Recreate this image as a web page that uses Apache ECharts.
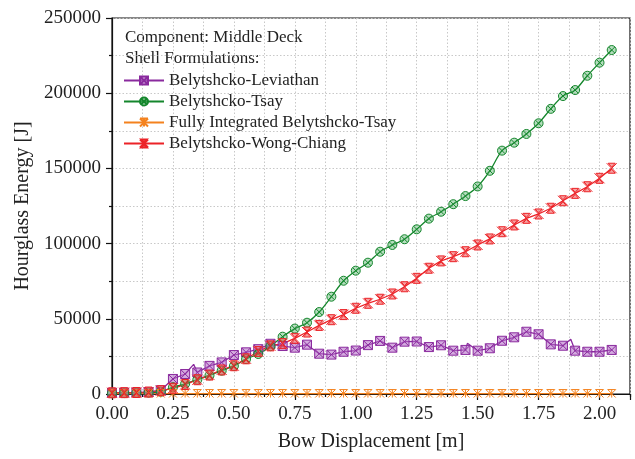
<!DOCTYPE html>
<html>
<head>
<meta charset="utf-8">
<script src="https://cdn.jsdelivr.net/npm/echarts@6/dist/echarts.min.js"></script>
<style>
  html, body { margin: 0; padding: 0; background: #fff; }
  #chart { width: 635px; height: 459px; }
</style>
</head>
<body>
<div id="chart"></div>
<script>
// Bow displacement [m] at which each sample is marked
const displacement = [
  0.00, 0.05, 0.10, 0.15, 0.20, 0.25, 0.30, 0.35, 0.40, 0.45,
  0.50, 0.55, 0.60, 0.65, 0.70, 0.75, 0.80, 0.85, 0.90, 0.95,
  1.00, 1.05, 1.10, 1.15, 1.20, 1.25, 1.30, 1.35, 1.40, 1.45,
  1.50, 1.55, 1.60, 1.65, 1.70, 1.75, 1.80, 1.85, 1.90, 1.95,
  2.00, 2.05
];

// Hourglass energy [J] per shell formulation
const leviathan = [
  800, 900, 1000, 1200, 2500, 10000, 13300, 14300, 18700, 21000,
  25900, 27700, 29800, 33400, 31900, 30800, 32800, 26800, 26200, 28100,
  28900, 32500, 35300, 30800, 34800, 34900, 31200, 32400, 28800, 29300,
  28800, 30400, 35400, 37700, 41400, 39700, 33000, 32100, 28800, 28100,
  28100, 29300
];
// short excursions of the Leviathan curve between marked samples
const leviathanPeakX = [0.335, 1.458, 1.508, 1.882];
const leviathanPeakY = [19700, 33700, 27500, 36400];

const tsay = [
  500, 600, 700, 900, 1500, 4500, 6800, 9500, 12400, 15500,
  18600, 23200, 26600, 31800, 38100, 43500, 47400, 54500, 64700, 75300,
  82000, 87300, 94600, 99100, 102900, 109500, 116600, 121200, 126200, 131600,
  138000, 148400, 161800, 167100, 172900, 180000, 189600, 198100, 202100, 211600,
  220300, 228700
];

const fullyIntegrated = [
  300, 300, 300, 300, 300, 300, 300, 300, 300, 300,
  300, 300, 300, 300, 300, 300, 300, 300, 300, 300,
  300, 300, 300, 300, 300, 300, 300, 300, 300, 300,
  300, 300, 300, 300, 300, 300, 300, 300, 300, 300,
  300, 300
];

const wongChiang = [
  800, 900, 1000, 1300, 2200, 3800, 6300, 9500, 12600, 16000,
  18800, 23400, 28300, 32000, 33500, 37000, 41200, 45600, 49400, 52800,
  57000, 60300, 63000, 66500, 71300, 76900, 83600, 88500, 91300, 94600,
  99100, 103100, 107900, 112400, 116800, 119700, 123500, 128500, 133400, 137800,
  143400, 150100
];

const xTickLabels = ['0.00', '0.25', '0.50', '0.75', '1.00', '1.25', '1.50', '1.75', '2.00'];
const yTickLabels = ['0', '50000', '100000', '150000', '200000', '250000'];

const seriesNames = [
  'Belytshcko-Leviathan',
  'Belytshcko-Tsay',
  'Fully Integrated Belytshcko-Tsay',
  'Belytshcko-Wong-Chiang'
];
const headerLines = ['Component: Middle Deck', 'Shell Formulations:'];

const SERIF = '"Liberation Serif", "Times New Roman", serif';

// marker glyphs
const boxCross = 'path://M0,0 H10 V10 H0 Z M0,0 L10,10 M10,0 L0,10';
const circleCross = 'path://M5,0 A5,5 0 1,1 5,10 A5,5 0 1,1 5,0 Z M1.6,1.6 L8.4,8.4 M8.4,1.6 L1.6,8.4';
const starCross = 'path://M0,0 L10,10 M10,0 L0,10 M5,0 V10 M0,0 H10';
const hourglassCross = 'path://M0,0 L10,10 M10,0 L0,10 M1.5,0 H8.5 L5,4 Z M1.5,10 H8.5 L5,6 Z';

function points(values) {
  return displacement.map((x, i) => [x, values[i]]);
}

function leviathanPoints() {
  const pts = points(leviathan).map(p => ({ value: p }));
  leviathanPeakX.forEach((x, i) => {
    pts.push({ value: [x, leviathanPeakY[i]], symbol: 'none' });
  });
  pts.sort((a, b) => a.value[0] - b.value[0]);
  return pts;
}

function makeSeries(name, data, color, fill, symbol, size, smooth) {
  return {
    name: name,
    type: 'line',
    data: data,
    smooth: smooth,
    symbol: symbol,
    symbolSize: size,
    showAllSymbol: true,
    lineStyle: { color: color, width: 1.3 },
    itemStyle: { color: fill, borderColor: color, borderWidth: 1 },
    emphasis: { disabled: true },
    animation: false
  };
}

const chart = echarts.init(document.getElementById('chart'), null, { renderer: 'canvas' });

const gridLine = { show: true, lineStyle: { color: '#c8c8c8', type: [1.5, 2], width: 1 } };

chart.setOption({
  backgroundColor: '#ffffff',
  animation: false,
  grid: {
    left: 112, right: 5, top: 18, bottom: 65,
    show: true, borderColor: '#111', borderWidth: 1.2, backgroundColor: 'transparent'
  },
  xAxis: [
    {
      type: 'value',
      min: 0, max: 2.125, interval: 0.25,
      axisLine: { show: true, lineStyle: { color: '#111', width: 1.2 } },
      axisTick: { show: true, length: 6, lineStyle: { color: '#111', width: 1.2 } },
      splitLine: { show: false },
      axisLabel: {
        color: '#222', fontFamily: SERIF, fontSize: 19, margin: 11,
        formatter: v => {
          const i = Math.round(v / 0.25);
          return Math.abs(v - i * 0.25) < 1e-6 && i < xTickLabels.length ? xTickLabels[i] : '';
        }
      },
      name: 'Bow Displacement [m]',
      nameLocation: 'middle',
      nameGap: 38,
      nameTextStyle: { color: '#222', fontFamily: SERIF, fontSize: 20 }
    },
    {
      // minor ticks and dotted grid every 0.125 m
      type: 'value',
      position: 'bottom',
      min: 0, max: 2.125, interval: 0.125,
      axisLine: { show: false },
      axisTick: { show: true, length: 3, lineStyle: { color: '#111', width: 1.2 } },
      axisLabel: { show: false },
      splitLine: gridLine
    }
  ],
  yAxis: {
    type: 'value',
    min: 0, max: 250000, interval: 50000,
    axisLine: { show: true, lineStyle: { color: '#111', width: 1.2 } },
    axisTick: { show: true, length: 6, lineStyle: { color: '#111', width: 1.2 } },
    minorTick: { show: true, splitNumber: 2, length: 3, lineStyle: { color: '#111', width: 1.2 } },
    splitLine: gridLine,
    minorSplitLine: gridLine,
    axisLabel: {
      color: '#222', fontFamily: SERIF, fontSize: 19, margin: 11,
      formatter: v => yTickLabels[Math.round(v / 50000)]
    },
    name: 'Hourglass Energy [J]',
    nameLocation: 'middle',
    nameGap: 78,
    nameTextStyle: { color: '#222', fontFamily: SERIF, fontSize: 20 }
  },
  legend: {
    orient: 'vertical',
    left: 118, top: 67,
    itemWidth: 40, itemHeight: 10, itemGap: 4,
    data: seriesNames,
    textStyle: { color: '#222', fontFamily: SERIF, fontSize: 17, padding: [0, 0, 0, 0] },
    selectedMode: false
  },
  graphic: headerLines.map((t, i) => ({
    type: 'text',
    left: 125,
    top: 29 + i * 21,
    style: { text: t, fill: '#222', font: '17px ' + SERIF }
  })),
  series: [
    makeSeries(seriesNames[0], leviathanPoints(), '#8a2a9e', 'rgba(176,102,196,0.55)', boxCross, 9, false),
    makeSeries(seriesNames[1], points(tsay), '#14862c', 'rgba(90,180,110,0.45)', circleCross, 9, 0.3),
    makeSeries(seriesNames[2], points(fullyIntegrated), '#f4821e', 'rgba(250,170,100,0.5)', starCross, 8, false),
    makeSeries(seriesNames[3], points(wongChiang), '#ec2227', 'rgba(240,100,100,0.6)', hourglassCross, 10, false)
  ]
});
</script>
</body>
</html>
